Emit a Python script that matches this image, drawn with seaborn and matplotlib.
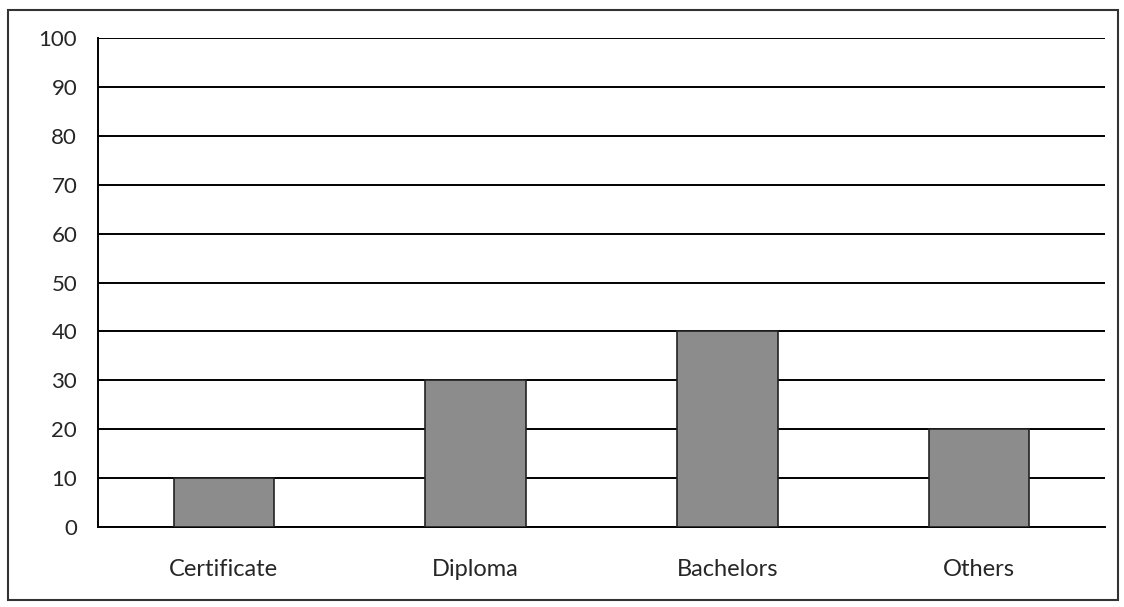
import matplotlib
matplotlib.use("Agg")
import matplotlib.pyplot as plt
import seaborn as sns
import pandas as pd
from matplotlib.patches import Rectangle

# qualifications and percentages
categories = ["Certificate", "Diploma", "Bachelors", "Others"]
values = [10, 30, 40, 20]
y_ticks = list(range(0, 101, 10))

df = pd.DataFrame({"cat": categories, "val": values})

sns.set_style("white")
plt.rcParams["font.family"] = ["Lato", "DejaVu Sans"]

fig = plt.figure(figsize=(11.24, 6.07), dpi=100)
ax = fig.add_axes([98 / 1124, 1 - 527 / 607, (1105 - 98) / 1124, (527 - 38) / 607])

sns.barplot(data=df, x="cat", y="val", color="#8c8c8c", width=0.4,
            edgecolor="#222222", linewidth=1.2, saturation=1, ax=ax, zorder=3)

ax.set_ylim(0, 100)
ax.set_xlim(-0.5, len(categories) - 0.5)
ax.set_yticks(y_ticks)
ax.yaxis.grid(True, color="black", linewidth=1.4, zorder=0)
ax.set_axisbelow(True)

# tick marks at category boundaries, labels centered
ax.set_xticks([i - 0.5 for i in range(len(categories) + 1)], minor=True)
ax.tick_params(axis="x", which="minor", length=6, width=1.2, color="black", direction="out")
ax.tick_params(axis="x", which="major", length=0, pad=23, labelsize=17)
ax.tick_params(axis="y", which="major", length=8, width=1.2, color="black",
               direction="out", pad=7, labelsize=16)
ax.set_xlabel("")
ax.set_ylabel("")

for s in ["top", "right"]:
    ax.spines[s].set_visible(False)
for s in ["left", "bottom"]:
    ax.spines[s].set_color("black")
    ax.spines[s].set_linewidth(1.4)

# outer chart border
fig.patches.append(Rectangle((8 / 1124, 1 - 600 / 607), (1118 - 8) / 1124, (600 - 10) / 607,
                             transform=fig.transFigure, fill=False,
                             edgecolor="#333333", linewidth=1.5))

fig.savefig("out.png", dpi=100)
